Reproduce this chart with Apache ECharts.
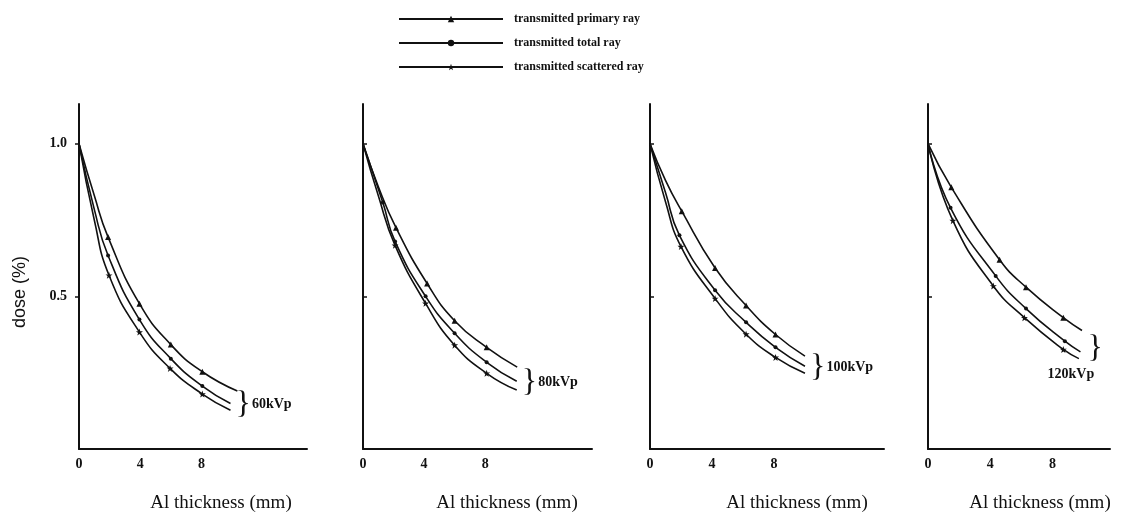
<!DOCTYPE html>
<html>
<head>
<meta charset="utf-8">
<script src="https://cdn.jsdelivr.net/npm/echarts@6/dist/echarts.min.js"></script>
<style>
  html, body { margin: 0; padding: 0; background: #fff; }
  #main { width: 1127px; height: 520px; }
</style>
</head>
<body>
<div id="main"></div>
<script>
// dose vs Al thickness, one panel per tube voltage
const kvpLabels = ['60kVp', '80kVp', '100kVp', '120kVp']
const seriesNames = ['transmitted primary ray', 'transmitted total ray', 'transmitted scattered ray']
const xTickLabels = [0, 4, 8]
const yTickLabels = [0.5, 1.0]

// [Al thickness (mm), dose]
const primary60 = [[0, 1.0], [1, 0.83], [1.9, 0.694], [3.95, 0.476], [6.0, 0.342], [8.06, 0.253], [10.35, 0.19]]
const total60 = [[0, 1.0], [1, 0.785], [1.9, 0.634], [3.95, 0.424], [6.0, 0.296], [8.06, 0.206], [9.9, 0.149]]
const scattered60 = [[0, 1.0], [1, 0.75], [1.96, 0.569], [3.95, 0.383], [5.95, 0.264], [8.06, 0.18], [9.9, 0.127]]

const primary80 = [[0, 1.0], [1, 0.86], [2.16, 0.725], [4.2, 0.542], [6.0, 0.42], [8.1, 0.333], [10.1, 0.268]]
const total80 = [[0, 1.0], [1.3, 0.807], [2.1, 0.68], [4.1, 0.5], [6.0, 0.379], [8.1, 0.284], [10.07, 0.222]]
const scattered80 = [[0, 1.0], [1, 0.83], [2.1, 0.667], [4.1, 0.477], [6.0, 0.34], [8.1, 0.248], [10.07, 0.193]]

const primary100 = [[0, 1.0], [1, 0.88], [2.05, 0.779], [4.2, 0.593], [6.2, 0.47], [8.1, 0.375], [10, 0.304]]
const total100 = [[0, 1.0], [1, 0.84], [1.9, 0.7], [4.2, 0.52], [6.2, 0.415], [8.1, 0.333], [10, 0.271]]
const scattered100 = [[0, 1.0], [1, 0.81], [2.0, 0.663], [4.2, 0.493], [6.2, 0.376], [8.1, 0.3], [10, 0.248]]

const primary120 = [[0, 1.0], [1.5, 0.857], [4.6, 0.62], [6.3, 0.53], [8.7, 0.43], [9.9, 0.388]]
const total120 = [[0, 1.0], [1.45, 0.79], [4.35, 0.567], [6.3, 0.46], [8.8, 0.353], [9.8, 0.318]]
const scattered120 = [[0, 1.0], [1.6, 0.748], [4.2, 0.534], [6.2, 0.43], [8.7, 0.326], [9.7, 0.296]]

const panels = [
  [primary60, total60, scattered60],
  [primary80, total80, scattered80],
  [primary100, total100, scattered100],
  [primary120, total120, scattered120]
]
const xMax = [14.9, 15.0, 15.1, 11.7]

const gridLeft = [79, 363, 650, 928]
const gridWidth = [228, 229, 234, 182]
const nameShift = [56, 59, 60, 42]

const starPath = 'path://M0,-10L2.4,-3.1L9.5,-3.1L3.8,1.2L5.9,8.1L0,4L-5.9,8.1L-3.8,1.2L-9.5,-3.1L-2.4,-3.1Z'
const symbols = ['triangle', 'circle', starPath]
const symbolSizes = [6, 4, 7]

const serif = '"Liberation Serif", "DejaVu Serif", serif'

const chart = echarts.init(document.getElementById('main'), null, { renderer: 'canvas' })

const grid = []
const xAxis = []
const yAxis = []
const series = []

panels.forEach((lines, p) => {
  grid.push({ left: gridLeft[p], top: 104, width: gridWidth[p], height: 345 })
  xAxis.push({
    gridIndex: p,
    type: 'value',
    min: 0,
    max: xMax[p],
    interval: 4,
    name: 'Al thickness (mm)',
    nameLocation: 'middle',
    nameGap: 45,
    nameTextStyle: { fontFamily: serif, fontSize: 19, color: '#111', padding: [0, 0, 0, nameShift[p]] },
    axisLine: { lineStyle: { color: '#111', width: 2 } },
    axisTick: { show: false },
    splitLine: { show: false },
    axisLabel: {
      customValues: xTickLabels,
      margin: 8,
      fontFamily: serif,
      fontWeight: 'bold',
      fontSize: 14,
      color: '#111'
    }
  })
  yAxis.push({
    gridIndex: p,
    type: 'value',
    min: 0,
    max: 1.13,
    interval: 0.5,
    axisLine: { show: true, lineStyle: { color: '#111', width: 2 } },
    axisTick: { show: true, customValues: yTickLabels, inside: p > 0, length: 4, lineStyle: { color: '#111', width: 1.5 } },
    splitLine: { show: false },
    axisLabel: {
      show: p === 0,
      customValues: yTickLabels,
      formatter: v => v.toFixed(1),
      margin: 12,
      fontFamily: serif,
      fontWeight: 'bold',
      fontSize: 14,
      color: '#111'
    }
  })

  lines.forEach((pts, s) => {
    const last = pts.length - 1
    const data = pts.map((pt, i) => {
      const item = { value: pt }
      // start, end and the x=1 shape points carry no visible marker
      if (i === 0 || i === last || pt[0] === 1) item.symbolSize = 0.1
      if (i === last && s === 1) {
        item.label = p < 3
          ? { show: true, position: 'right', offset: [0, 1], formatter: '}{t|' + kvpLabels[p] + '}' }
          : { show: true, position: 'right', offset: [2, -3], formatter: '}' }
      }
      if (i === last && s === 2 && p === 3) {
        item.label = {
          show: true, position: 'bottom', offset: [-8, 4], formatter: kvpLabels[p],
          fontFamily: serif, fontWeight: 'bold', fontSize: 14, color: '#111'
        }
      }
      return item
    })
    series.push({
      name: seriesNames[s],
      type: 'line',
      xAxisIndex: p,
      yAxisIndex: p,
      smooth: 0.5,
      symbol: symbols[s],
      symbolSize: symbolSizes[s],
      showSymbol: true,
      lineStyle: { color: '#111', width: 1.6 },
      itemStyle: { color: '#111', borderWidth: 0 },
      label: {
        fontFamily: serif,
        fontSize: 32,
        fontWeight: 'normal',
        color: '#111',
        rich: {
          t: { fontFamily: serif, fontWeight: 'bold', fontSize: 14, color: '#111', padding: [0, 0, 0, 1] }
        }
      },
      emphasis: { disabled: true },
      data: data
    })
  })
})

const option = {
  animation: false,
  backgroundColor: '#fff',
  legend: {
    data: seriesNames,
    orient: 'vertical',
    left: 393,
    top: 8,
    itemWidth: 104,
    itemHeight: 8,
    itemGap: 12,
    textStyle: { fontFamily: serif, fontWeight: 'bold', fontSize: 12, color: '#111', padding: [0, 0, 0, 6] }
  },
  graphic: [
    {
      type: 'text',
      left: 11,
      top: 256,
      rotation: Math.PI / 2,
      style: { text: 'dose (%)', font: '18px "Liberation Sans", Arial, sans-serif', fill: '#111' }
    }
  ],
  grid: grid,
  xAxis: xAxis,
  yAxis: yAxis,
  series: series
}

chart.setOption(option)
</script>
</body>
</html>
